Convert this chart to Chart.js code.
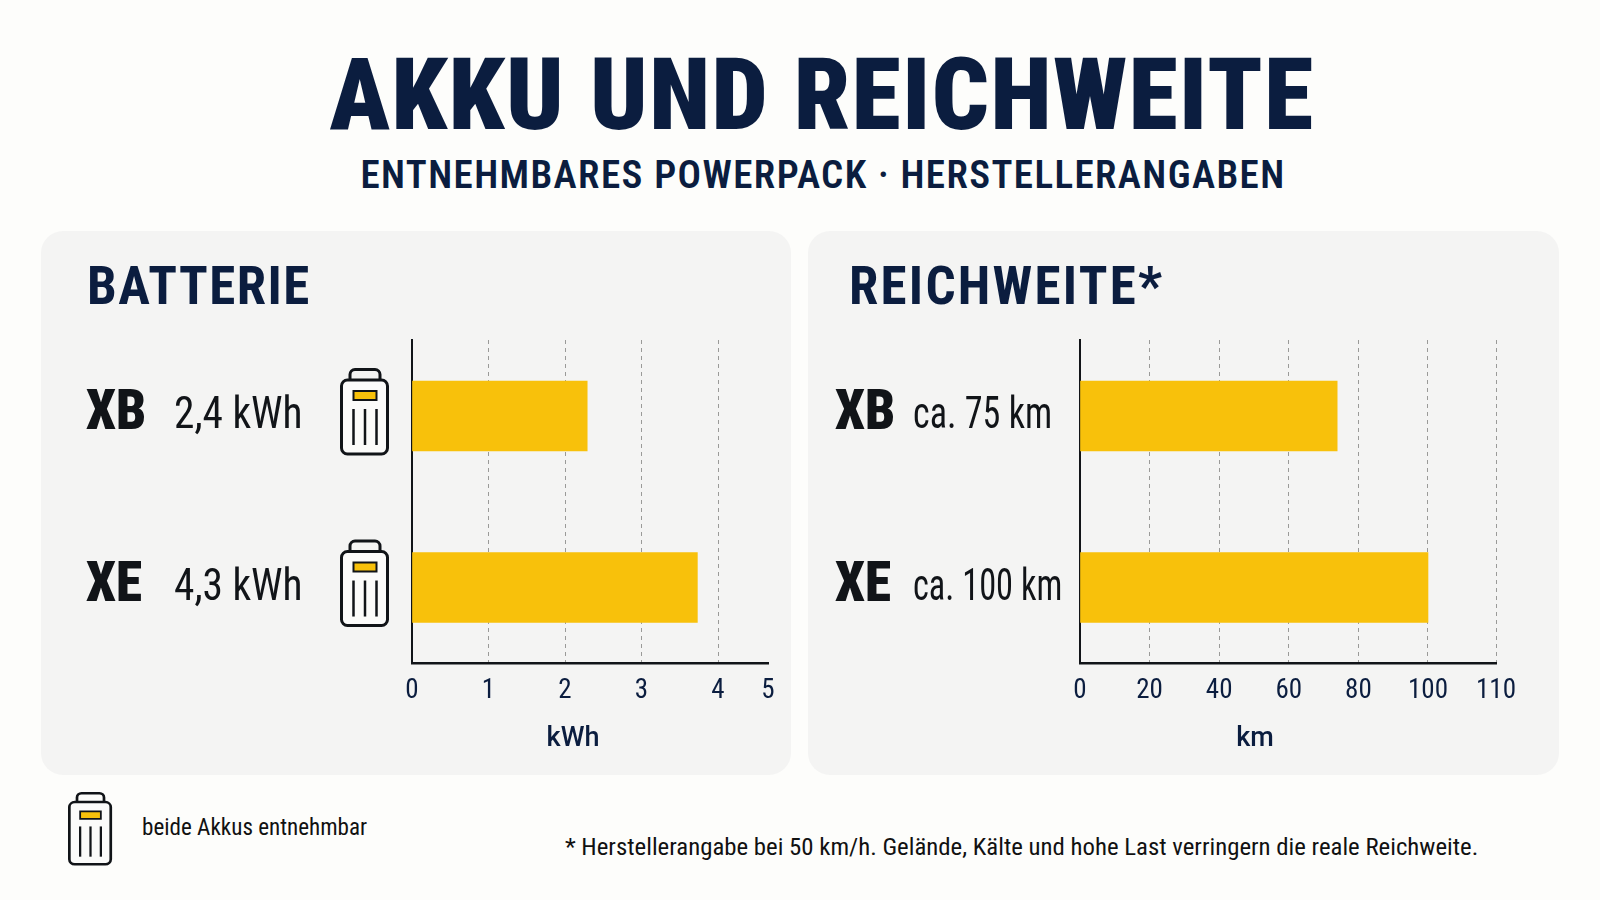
<!DOCTYPE html>
<html lang="de">
<head>
<meta charset="utf-8">
<title>Akku und Reichweite</title>
<script src="https://cdn.jsdelivr.net/npm/chart.js@4"></script>
<style>
  html, body { margin: 0; padding: 0; }
  body { width: 1600px; height: 900px; background: #fdfdfb; position: relative; overflow: hidden;
         font-family: Roboto, sans-serif; font-stretch: 75%; color: #0b1d3f; }
  .txt { position: absolute; white-space: nowrap; line-height: 1; }
  .panel { position: absolute; top: 231px; width: 750px; height: 544px; background: #f4f4f3; border-radius: 22px; }
  .panel canvas { position: absolute; left: 0; top: 0; }
  #title { left: 44px; width: 1556px; text-align: center; top: 45px; font-size: 100px; font-weight: 900; letter-spacing: 1.5px; }
  #subtitle { left: 46px; width: 1554px; text-align: center; top: 156px; font-size: 39px; font-weight: 600; letter-spacing: 1.4px; }
  .head { top: 29px; font-size: 53px; font-weight: 700; letter-spacing: 1.5px; }
  #legendIcon { position: absolute; left: 60px; top: 785px; }
  #legendText { left: 142px; top: 816px; font-size: 23.1px; color: #111; }
  #note { left: 565px; top: 835px; font-size: 24.8px; color: #111; }
</style>
</head>
<body>
<div class="txt" id="title">AKKU UND REICHWEITE</div>
<div class="txt" id="subtitle">ENTNEHMBARES POWERPACK · HERSTELLERANGABEN</div>

<div class="panel" style="left:41px">
  <canvas id="batteryChart" width="750" height="544"></canvas>
  <div class="txt head" style="left:46px">BATTERIE</div>
</div>
<div class="panel" style="left:808px;width:751px">
  <canvas id="rangeChart" width="751" height="544"></canvas>
  <div class="txt head" style="left:41px;letter-spacing:2.25px">REICHWEITE*</div>
</div>

<canvas id="legendIcon" width="60" height="90"></canvas>
<div class="txt" id="legendText">beide Akkus entnehmbar</div>
<div class="txt" id="note">* Herstellerangabe bei 50 km/h. Gelände, Kälte und hohe Last verringern die reale Reichweite.</div>

<script>
const models = ["XB", "XE"];
const batteryValues = [2.29, 3.73];
const batteryLabels = ["2,4 kWh", "4,3 kWh"];
const batteryTicks = [0, 1, 2, 3, 4, 5];
const rangeValues = [73.9, 100];
const rangeLabels = ["ca. 75 km", "ca. 100 km"];
const rangeTicks = [0, 20, 40, 60, 80, 100, 110];

const FONT = "Roboto, sans-serif";
const NAVY = "#0b1d3f";
const INK = "#111418";
const YELLOW = "#f8c10b";

// the last step of both axes is squeezed in the original, so the scale has a knee
const LinearScale = Chart.registry.getScale("linear");
class KneeScale extends LinearScale {
  getPixelForValue(value) {
    const { kneeValue, kneeShare } = this.options;
    const share = value <= kneeValue
      ? value / kneeValue * kneeShare
      : kneeShare + (value - kneeValue) / (this.max - kneeValue) * (1 - kneeShare);
    return this.left + share * this.width;
  }
}
KneeScale.id = "knee";
KneeScale.defaults = LinearScale.defaults;
Chart.register(KneeScale);

function drawBattery(ctx, x, y, sx, sy) {
  // x, y = top left of the handle; sx, sy = size factors, 1 is the panel icon
  ctx.save();
  ctx.translate(x, y);
  ctx.scale(sx, sy);
  ctx.lineWidth = 3;
  ctx.strokeStyle = INK;
  ctx.fillStyle = "#fbfbfa";
  ctx.beginPath();
  ctx.roundRect(10, 1.5, 30, 14, 5);
  ctx.stroke();
  ctx.beginPath();
  ctx.roundRect(1.5, 12, 46, 74, 6);
  ctx.fill();
  ctx.stroke();
  ctx.fillStyle = YELLOW;
  ctx.lineWidth = 2;
  ctx.beginPath();
  ctx.rect(13.5, 23, 23, 9);
  ctx.fill();
  ctx.stroke();
  ctx.lineWidth = 2.5;
  [13.5, 25, 36.5].forEach(function (lx) {
    ctx.beginPath();
    ctx.moveTo(lx, 41);
    ctx.lineTo(lx, 77);
    ctx.stroke();
  });
  ctx.restore();
}

function squeezedText(ctx, text, x, y, squeeze) {
  ctx.save();
  ctx.translate(x, y);
  ctx.scale(squeeze, 1);
  ctx.fillText(text, 0, 0);
  ctx.restore();
}

const rowLabels = {
  id: "rowLabels",
  // the context state is reset whenever the canvas is sized, so set this before each draw
  beforeDraw(chart) { chart.ctx.fontStretch = "condensed"; },
  afterDraw(chart, args, opts) {
    const ctx = chart.ctx;
    const yScale = chart.scales.y;
    ctx.save();
    models.forEach(function (name, i) {
      const rowY = yScale.getPixelForValue(i);
      ctx.fillStyle = INK;
      ctx.textAlign = "left";
      ctx.textBaseline = "alphabetic";
      ctx.font = "900 condensed 56px " + FONT;
      ctx.fontStretch = "condensed";
      squeezedText(ctx, name, opts.nameX, rowY + 13.5, 0.95);
      ctx.font = "condensed 44px " + FONT;
      ctx.fontStretch = "condensed";
      squeezedText(ctx, opts.values[i], opts.valueX, rowY + 12, opts.squeeze[i]);
      if (opts.iconX) drawBattery(ctx, opts.iconX, rowY - 48, 1, 1);
    });
    ctx.fillStyle = NAVY;
    ctx.textAlign = "center";
    ctx.textBaseline = "middle";
    ctx.font = "500 27px " + FONT;
    ctx.fontStretch = "normal";
    ctx.fillText(opts.unit, opts.unitX, 508);
    ctx.restore();
  }
};

function barChart(id, values, ticks, kneeValue, kneeShare, padLeft, padRight, hideLastGrid, labelOpts) {
  return new Chart(document.getElementById(id), {
    type: "bar",
    data: {
      datasets: [{
        data: values.map(function (v, i) { return { x: v, y: i }; }),
        backgroundColor: YELLOW,
        barThickness: 70
      }]
    },
    plugins: [rowLabels],
    options: {
      indexAxis: "y",
      responsive: false,
      animation: false,
      layout: { padding: { left: padLeft, right: padRight, top: 109, bottom: 0 } },
      plugins: {
        legend: { display: false },
        tooltip: { enabled: false },
        rowLabels: labelOpts
      },
      scales: {
        x: {
          type: "knee",
          min: 0,
          max: ticks[ticks.length - 1],
          kneeValue: kneeValue,
          kneeShare: kneeShare,
          afterBuildTicks(scale) { scale.ticks = ticks.map(function (value) { return { value: value }; }); },
          afterFit(scale) { scale.height = 112; },
          border: { display: true, color: INK, width: 2.5, dash: [4, 4] },
          grid: {
            drawTicks: false,
            lineWidth: 1,
            color(c) { return hideLastGrid && c.index === ticks.length - 1 ? "transparent" : "#9a9a98"; }
          },
          ticks: {
            autoSkip: false,
            maxRotation: 0,
            padding: 12,
            color: NAVY,
            font: { family: FONT, size: 27 }
          }
        },
        y: {
          type: "linear",
          reverse: true,
          offset: false,
          min: -0.443,
          max: 1.44,
          border: { display: true, color: INK, width: 2 },
          grid: { display: false, drawTicks: false, offset: false },
          ticks: { display: false }
        }
      }
    }
  });
}

barChart("batteryChart", batteryValues, batteryTicks, 4, 0.8596, 371, 23, true,
  { values: batteryLabels, squeeze: [0.94, 0.94], nameX: 45, valueX: 133, iconX: 299, unit: "kWh", unitX: 532 });
barChart("rangeChart", rangeValues, rangeTicks, 100, 0.8365, 272, 63, false,
  { values: rangeLabels, squeeze: [0.82, 0.78], nameX: 27, valueX: 105, iconX: 0, unit: "km", unitX: 447 });

drawBattery(document.getElementById("legendIcon").getContext("2d"), 8, 7, 0.9, 0.84);
</script>
</body>
</html>
